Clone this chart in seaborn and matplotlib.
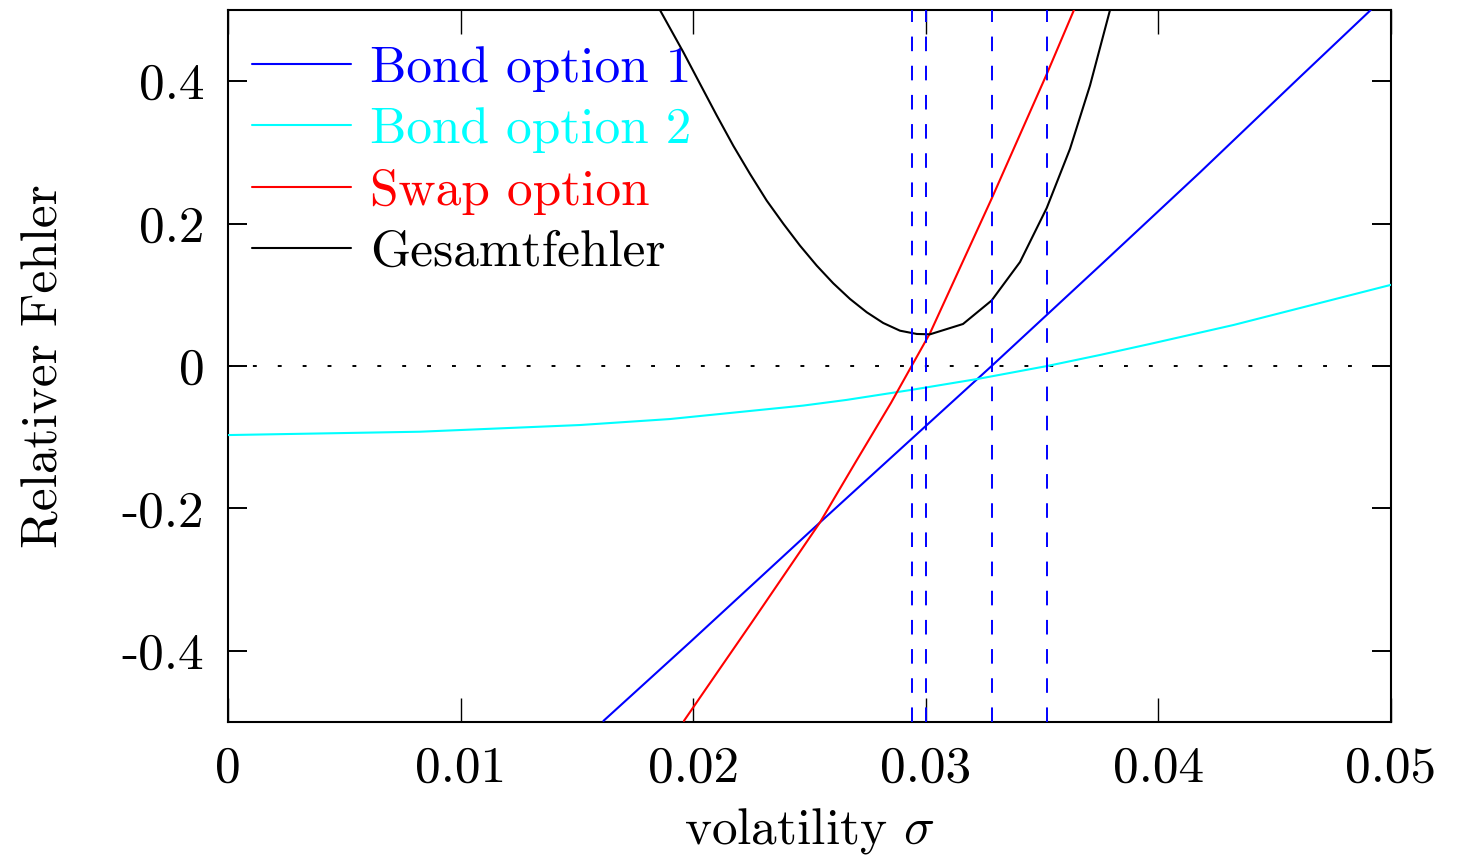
import matplotlib
matplotlib.use("Agg")
import matplotlib.pyplot as plt
import seaborn as sns
import pandas as pd

# ---- data ----
bond1_x = [0.01614, 0.01986, 0.02545, 0.02947, 0.03283, 0.03749, 0.04179,
           0.04609, 0.04913]
bond1_y = [-0.4985, -0.388, -0.2197, -0.100, 0.0, 0.141, 0.272,
           0.406, 0.5]

bond2_x = [0.0, 0.00825, 0.01513, 0.019, 0.02473, 0.0266, 0.02939, 0.03226,
           0.03522, 0.03749, 0.03964, 0.04323, 0.05]
bond2_y = [-0.097, -0.0923, -0.0829, -0.0745, -0.0556, -0.0476, -0.0335, -0.018,
           0.0, 0.0155, 0.031, 0.0576, 0.114]

swap_x = [0.0196, 0.0210, 0.0225, 0.02545, 0.0270, 0.0285, 0.02939,
          0.03018, 0.03283, 0.0352, 0.03637]
swap_y = [-0.4985, -0.432, -0.361, -0.2197, -0.134, -0.052, 0.0,
          0.046, 0.235, 0.41, 0.5]

total_x = [0.01857, 0.01958, 0.02029, 0.02101, 0.02173, 0.02244, 0.02316,
           0.02388, 0.02459, 0.02531, 0.02602, 0.02674, 0.02746, 0.02817,
           0.02889, 0.02961, 0.03018, 0.0316, 0.03283, 0.03405, 0.0352,
           0.0362, 0.03706, 0.03792]
total_y = [0.5, 0.4405, 0.3965, 0.352, 0.309, 0.2699, 0.2323,
           0.1996, 0.1691, 0.141, 0.1162, 0.0942, 0.0755, 0.0604,
           0.0496, 0.045, 0.0445, 0.059, 0.092, 0.146, 0.222,
           0.305, 0.394, 0.5]

vlines_x = [0.02941, 0.03001, 0.03283, 0.0352]

xticks = [0.0, 0.01, 0.02, 0.03, 0.04, 0.05]
xtick_labels = ["0", "0.01", "0.02", "0.03", "0.04", "0.05"]
yticks = [-0.4, -0.2, 0.0, 0.2, 0.4]
ytick_labels = ["-0.4", "-0.2", "0", "0.2", "0.4"]

series = [
    ("Bond option 1", bond1_x, bond1_y, "#0000ff"),
    ("Bond option 2", bond2_x, bond2_y, "#00ffff"),
    ("Swap option", swap_x, swap_y, "#ff0000"),
    ("Gesamtfehler", total_x, total_y, "#000000"),
]

sns.set_style("ticks")
plt.rcParams["font.family"] = ["cmr10", "DejaVu Serif"]
plt.rcParams["mathtext.fontset"] = "cm"
plt.rcParams["axes.unicode_minus"] = False
for k in ["text.color", "axes.labelcolor", "xtick.color", "ytick.color",
          "axes.edgecolor"]:
    plt.rcParams[k] = "black"

FS = 37

fig = plt.figure(figsize=(14.61, 8.55), dpi=100)
ax = fig.add_axes([228 / 1461, 1 - 722 / 855, (1391 - 228) / 1461, (722 - 10) / 855])

for name, xs, ys, col in series:
    df = pd.DataFrame({"x": xs, "y": ys})
    sns.lineplot(data=df, x="x", y="y", ax=ax, color=col, lw=1.5,
                 label=name, sort=False, estimator=None, zorder=3)

ax.axhline(0, color="black", lw=1.4, dashes=(2.0, 10.8), zorder=1)
for vx in vlines_x:
    ax.axvline(vx, color="#0000ff", lw=1.4, dashes=(7.5, 7.5), zorder=4)

ax.set_xlim(0, 0.05)
ax.set_ylim(-0.5, 0.5)
ax.set_xticks(xticks)
ax.set_xticklabels(xtick_labels)
ax.set_yticks(yticks)
ax.set_yticklabels(ytick_labels)

ax.tick_params(axis="both", which="major", direction="in", top=True, right=True,
               labelsize=FS, colors="black")
ax.tick_params(axis="x", length=17, width=1.0, pad=17)
ax.tick_params(axis="y", length=13.5, width=1.4, pad=17)
for sp in ax.spines.values():
    sp.set_linewidth(1.5)
    sp.set_color("black")

ax.set_xlabel(r"volatility $\sigma$", fontsize=FS)
ax.set_ylabel("Relativer Fehler", fontsize=FS)
ax.xaxis.set_label_coords(0.5, -0.118)
ax.yaxis.set_label_coords(-0.138, 0.5)

leg = ax.legend(loc="upper left", bbox_to_anchor=(252 / 1461, 1 - 46 / 855),
                bbox_transform=fig.transFigure, frameon=False, fontsize=FS,
                handlelength=1.93, handletextpad=0.36, labelspacing=0.30,
                borderpad=0, borderaxespad=0, labelcolor="linecolor")
leg.set_zorder(2)
for h in leg.get_lines():
    h.set_linewidth(1.5)

fig.savefig("out.png", dpi=100)
